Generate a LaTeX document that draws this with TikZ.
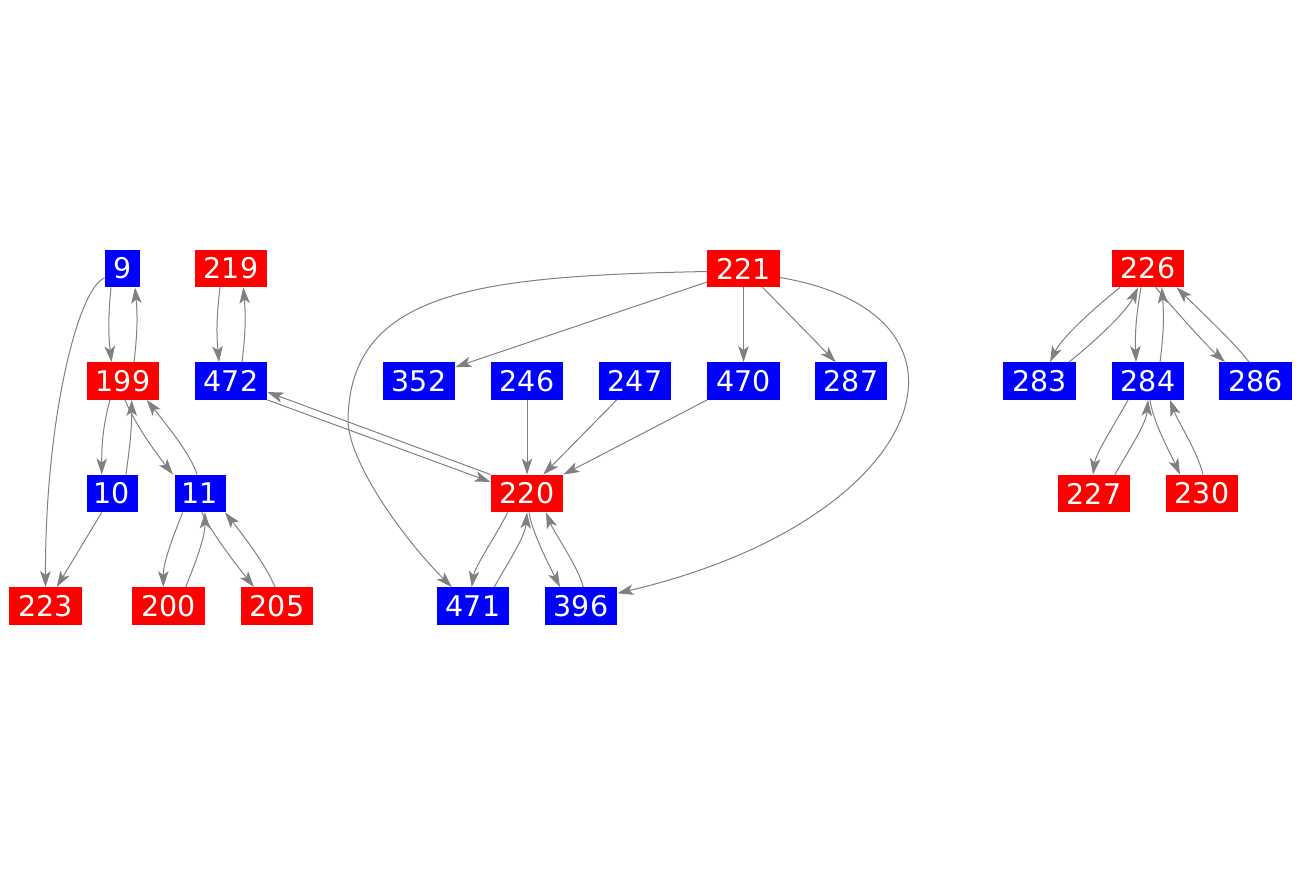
\documentclass[tikz,border=0pt]{standalone}
\usepackage{fontspec}
\setmainfont{DejaVu Sans}
\usetikzlibrary{arrows.meta}
\definecolor{nred}{HTML}{FF0000}
\definecolor{nblue}{HTML}{0000FF}
\definecolor{egray}{HTML}{808080}
\tikzset{
  gnode/.style={rectangle, inner sep=0pt, minimum width=72.5pt, minimum height=37.5pt,
    text=white, font=\fontsize{28.5}{30}\selectfont},
  rednode/.style={gnode, fill=nred},
  bluenode/.style={gnode, fill=nblue},
  twodig/.style={minimum width=51pt},
  onedig/.style={minimum width=35.5pt},
  edge/.style={draw=egray, line width=1pt,
    -{Stealth[length=16pt,width=10.5pt,inset=4pt,fill=egray]}}
}
\begin{document}
\begin{tikzpicture}[x=1pt,y=-1pt]
\useasboundingbox (0,0) rectangle (1300,875);
% row 1
\node[bluenode,onedig] (n9) at (122.5,268.5) {9};
\node[rednode] (n219) at (231,268.5) {219};
\node[rednode] (n221) at (743.5,268.5) {221};
\node[rednode] (n226) at (1148,268.5) {226};
% row 2
\node[rednode] (n199) at (123,381) {199};
\node[bluenode] (n472) at (231,381) {472};
\node[bluenode] (n352) at (419,381) {352};
\node[bluenode] (n246) at (527,381) {246};
\node[bluenode] (n247) at (635,381) {247};
\node[bluenode] (n470) at (743.5,381) {470};
\node[bluenode] (n287) at (851,381) {287};
\node[bluenode] (n283) at (1039.5,381) {283};
\node[bluenode] (n284) at (1148,381) {284};
\node[bluenode] (n286) at (1255.5,381) {286};
% row 3
\node[bluenode,twodig] (n10) at (112,493.5) {10};
\node[bluenode,twodig] (n11) at (200,493.5) {11};
\node[rednode] (n220) at (527,493.5) {220};
\node[rednode] (n227) at (1094,493.5) {227};
\node[rednode] (n230) at (1202,493.5) {230};
% row 4
\node[rednode] (n223) at (45.5,606) {223};
\node[rednode] (n200) at (168.5,606) {200};
\node[rednode] (n205) at (277,606) {205};
\node[bluenode] (n471) at (473,606) {471};
\node[bluenode] (n396) at (581,606) {396};

% left group
\draw[edge] ([xshift=-11.5pt]n9.south) to[bend right=6] ([xshift=-11.5pt]n199.north);
\draw[edge] ([xshift=11pt]n199.north) to[bend right=6] ([xshift=12.5pt]n9.south);
\draw[edge] ([yshift=-9.5pt]n9.west) .. controls (78,288) and (45,420) .. (n223.north);
\draw[edge] ([xshift=-13pt]n199.south) .. controls +(-7,25) and +(0,-30) .. ([xshift=-10.3pt]n10.north);
\draw[edge] ([xshift=14pt]n10.north) .. controls +(4,-30) and +(0,30) .. ([xshift=8.7pt]n199.south);
\draw[edge] ([xshift=2pt]n199.south) .. controls +(8,20) and +(-20,-25) .. ([xshift=-27pt]n11.north);
\draw[edge] ([xshift=-3pt]n11.north) .. controls +(-6,-20) and +(20,25) .. ([xshift=23.7pt]n199.south);
\draw[edge] ([xshift=-10.3pt]n10.south) -- ([xshift=11.2pt]n223.north);
\draw[edge] ([xshift=-17.3pt]n11.south) .. controls +(-10,25) and +(0,-25) .. ([xshift=-5.2pt]n200.north);
\draw[edge] ([xshift=17.2pt]n200.north) .. controls +(10,-25) and +(0,25) .. ([xshift=5pt]n11.south);
\draw[edge] ([xshift=1.7pt]n11.south) .. controls +(10,20) and +(-20,-25) .. ([xshift=-23pt]n205.north);
\draw[edge] ([xshift=-2pt]n205.north) .. controls +(-8,-20) and +(20,25) .. ([xshift=25pt]n11.south);
\draw[edge] ([xshift=-11pt]n219.south) to[bend right=6] ([xshift=-12pt]n472.north);
\draw[edge] ([xshift=11pt]n472.north) to[bend right=6] ([xshift=12.3pt]n219.south);
\draw[edge] (n220.north west) -- ([yshift=-11pt]n472.east);
\draw[edge] (n472.south east) -- ([yshift=11.5pt]n220.west);

% centre group
\draw[edge] ([yshift=-13.5pt]n221.west) -- ([yshift=-5pt]n352.north east);
\draw[edge] (n221.south) -- (n470.north);
\draw[edge] ([xshift=19.2pt]n221.south) -- ([xshift=-15.3pt]n287.north);
\draw[edge] ([yshift=-3pt]n221.west) .. controls (480,276) and (350,290) .. (348,420)
  .. controls (348,460) and (400,535) .. ([xshift=-21.3pt]n471.north);
\draw[edge] ([yshift=-9pt]n221.east) .. controls (1000,315) and (930,520) .. ([yshift=12.7pt]n396.east);
\draw[edge] (n246.south) -- (n220.north);
\draw[edge] ([xshift=-18.3pt]n247.south) -- ([xshift=16.3pt]n220.north);
\draw[edge] (n470.south west) -- (n220.north east);
\draw[edge] ([xshift=-19.3pt]n220.south) .. controls +(-10,20) and +(3,-20) .. ([xshift=-1.3pt]n471.north);
\draw[edge] ([xshift=21.3pt]n471.north) .. controls +(12,-22) and +(-2,25) .. (n220.south);
\draw[edge] ([xshift=2pt]n220.south) .. controls +(3,20) and +(-10,-20) .. ([xshift=-21pt]n396.north);
\draw[edge] ([xshift=2.3pt]n396.north) .. controls +(-5,-20) and +(8,20) .. ([xshift=19pt]n220.south);

% right group
\draw[edge] ([xshift=-28pt]n226.south) .. controls +(-25,20) and +(12,-25) .. ([xshift=10.5pt]n283.north);
\draw[edge] ([xshift=29.5pt]n283.north) .. controls +(25,-20) and +(-12,25) .. ([xshift=-10pt]n226.south);
\draw[edge] ([xshift=-7pt]n226.south) to[bend right=6] ([xshift=-12pt]n284.north);
\draw[edge] ([xshift=12pt]n284.north) to[bend right=6] ([xshift=13.7pt]n226.south);
\draw[edge] ([xshift=7.7pt]n226.south) .. controls +(15,18) and +(-20,-18) .. ([xshift=-30.5pt]n286.north);
\draw[edge] ([xshift=-6.5pt]n286.north) .. controls +(-15,-20) and +(20,20) .. ([xshift=28.7pt]n226.south);
\draw[edge] ([xshift=-20pt]n284.south) .. controls +(-12,22) and +(3,-22) .. ([xshift=-1pt]n227.north);
\draw[edge] ([xshift=21pt]n227.north) .. controls +(12,-22) and +(-2,25) .. (n284.south);
\draw[edge] ([xshift=2pt]n284.south) .. controls +(3,22) and +(-10,-22) .. ([xshift=-22pt]n230.north);
\draw[edge] ([xshift=1pt]n230.north) .. controls +(-5,-22) and +(8,22) .. ([xshift=22pt]n284.south);
\end{tikzpicture}
\end{document}
